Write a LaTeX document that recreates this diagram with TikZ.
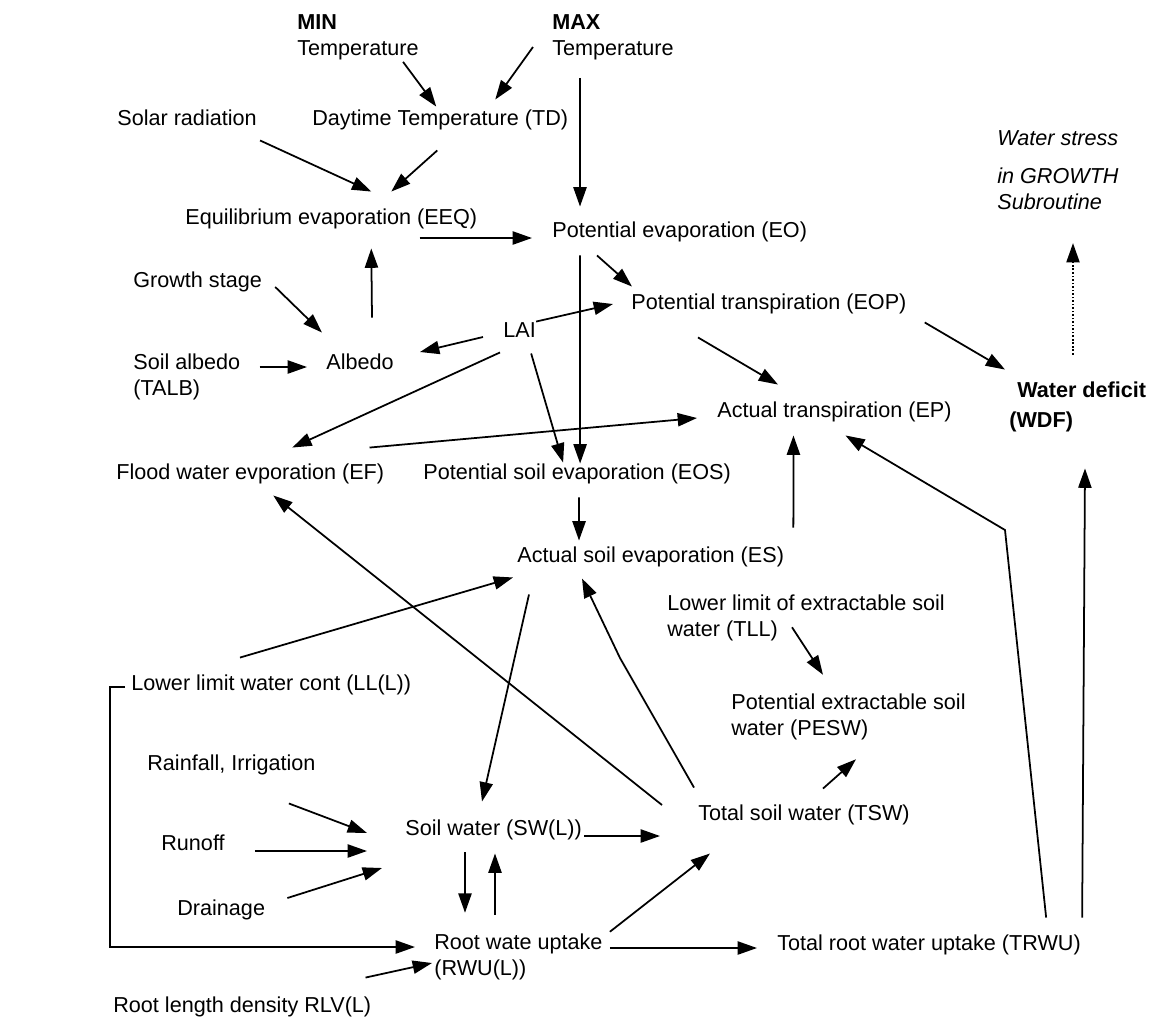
\documentclass[tikz,border=0pt]{standalone}
\usepackage{fontspec}
\setmainfont{Liberation Sans}
\usetikzlibrary{arrows.meta}

\begin{document}
\begin{tikzpicture}[x=0.02cm, y=-0.02cm,
    lbl/.style={anchor=west, inner sep=0pt, font=\fontsize{12.3}{14.6}\selectfont, text height=9pt, text depth=2.5pt},
    lbls/.style={anchor=west, inner sep=0pt, font=\fontsize{12.3}{14.6}\selectfont, align=left},
    arr/.style={-{Triangle[length=11pt, width=7.5pt]}, line width=1pt}]
    \useasboundingbox (0,0) rectangle (1164,1019);

    % Weather and crop inputs
    \node[lbls] (minT) at (297,37) {\textbf{MIN}\\Temperature};
    \node[lbls] (maxT) at (552,37) {\textbf{MAX}\\Temperature};
    \node[lbl] (solar) at (117,120) {Solar radiation};
    \node[lbl] (TD) at (312,120) {Daytime Temperature (TD)};
    \node[lbl] (EEQ) at (185,219) {Equilibrium evaporation (EEQ)};
    \node[lbl] (EO) at (552,232) {Potential evaporation (EO)};
    \node[lbls, font=\fontsize{12.3}{14.6}\selectfont\itshape] (stress) at (997,170) {Water stress\\[7.5pt]in GROWTH\\Subroutine};
    \node[lbl] (growth) at (133,282) {Growth stage};
    \node[lbl] (EOP) at (631,304) {Potential transpiration (EOP)};
    \node[lbl] (LAI) at (503,332) {LAI};
    \node[lbls] (talb) at (133,377) {Soil albedo\\(TALB)};
    \node[lbl] (albedo) at (326,364) {Albedo};
    \node[lbl] (EP) at (717,412) {Actual transpiration (EP)};
    \node[lbls, font=\fontsize{12.3}{14.6}\selectfont\bfseries] (WDF) at (1009,407) {\hspace*{4.5pt}Water deficit\\[2.5pt](WDF)};
    \node[lbl] (EF) at (116,474) {Flood water evporation (EF)};
    \node[lbl] (EOS) at (423,474) {Potential soil evaporation (EOS)};
    \node[lbl] (ES) at (517,557) {Actual soil evaporation (ES)};

    % Soil water balance
    \node[lbls] (TLL) at (667,618) {Lower limit of extractable soil\\water (TLL)};
    \node[lbl] (LL) at (131,685) {Lower limit water cont (LL(L))};
    \node[lbls] (PESW) at (731,717) {Potential extractable soil\\water (PESW)};
    \node[lbl] (rain) at (147,765) {Rainfall, Irrigation};
    \node[lbl] (SW) at (405,830) {Soil water (SW(L))};
    \node[lbl] (TSW) at (698,815) {Total soil water (TSW)};
    \node[lbl] (runoff) at (161,845) {Runoff};
    \node[lbl] (drain) at (177,910) {Drainage};
    \node[lbls] (RWU) at (434,957) {Root wate uptake\\(RWU(L))};
    \node[lbl] (TRWU) at (777,945) {Total root water uptake (TRWU)};
    \node[lbl] (RLV) at (113,1007) {Root length density RLV(L)};

    % Draw arrows in the upper part
    \draw[arr] ([shift={(-16,2)}]minT.south east) -- ([shift={(-4,-3)}]TD.north);
    \draw[arr] ([shift={(-19,10)}]maxT.west) -- ([shift={(55,-10)}]TD.north);
    \draw[arr] ([shift={(28,18)}]maxT.south west) -- ([shift={(28,-15)}]EO.north west);
    \draw[arr] ([shift={(3,10)}]solar.south east) -- ([shift={(40,-17)}]EEQ.north);
    \draw[arr] ([shift={(-3,20)}]TD.south) -- ([shift={(60,-17)}]EEQ.north);
    \draw[arr] ([shift={(-58,19)}]EEQ.east) -- ([shift={(-20,6)}]EO.west);
    \draw[arr] ([shift={(12,-36)}]albedo.north) -- ([shift={(40,19)}]EEQ.south);
    \draw[arr] ([shift={(13,5)}]growth.east) -- ([shift={(-4,-21)}]albedo.north west);
    \draw[arr] ([shift={(19,-10)}]talb.east) -- ([shift={(-19,3)}]albedo.west);
    \draw[arr] ([shift={(-20,5)}]LAI.west) -- ([shift={(26,-12)}]albedo.east);
    \draw[arr] (LAI.north east) -- ([shift={(-18,0)}]EOP.west);
    \draw[arr] ([shift={(-3,10)}]LAI.south west) -- ([shift={(42,-16)}]EF.north);
    \draw[arr] ([shift={(-5,11)}]LAI.south east) -- ([shift={(-14,-1)}]EOS.north);
    \draw[arr] ([shift={(28,13)}]EO.south west) -- ([shift={(3,0)}]EOS.north);
    \draw[arr] ([shift={(45,13)}]EO.south west) -- ([shift={(1,-7)}]EOP.north west);
    \draw[arr] ([shift={(67,23)}]EOP.south west) -- ([shift={(61,-17)}]EP.north west);
    \draw[arr] ([shift={(18,8)}]EOP.south east) -- ([shift={(-4,-12)}]WDF.north west);
    \draw[arr, densely dotted] ([shift={(64,-27)}]WDF.north west) -- ([shift={(76,33)}]stress.south west);
    \draw[arr] ([shift={(-15,-16)}]EF.north east) -- ([shift={(-20,6)}]EP.west);
    \draw[arr] ([shift={(2,13)}]EOS.south) -- ([shift={(62,-6)}]ES.north west);
    \draw[arr] ([shift={(9,-19)}]ES.north east) -- ([shift={(-41,13)}]EP.south);
    \draw[arr] ([shift={(-35,-17)}]TRWU.north east) -- (1005,530) -- ([shift={(11,13)}]EP.south);
    \draw[arr] ([shift={(1,-17)}]TRWU.north east) -- ([shift={(76,36)}]WDF.south west);

    % Draw arrows in the soil part
    \draw[arr] ([shift={(12,27)}]ES.south west) -- ([shift={(77,-18)}]SW.north west);
    \draw[arr] ([shift={(-4,-17)}]TSW.north west) -- (620,658) -- ([shift={(65,11)}]ES.south west);
    \draw[arr] ([shift={(-36,-10)}]TSW.west) -- ([shift={(23,11)}]EF.south);
    \draw[arr] ([shift={(109,-17)}]LL.north west) -- ([shift={(-4,10)}]ES.south west);
    \draw[arr] ([shift={(-6,2)}]LL.west) -- ++(-15,0) |- ([shift={(-19,-10)}]RWU.west);
    \draw[arr] ([shift={(-27,28)}]rain.south east) -- ([shift={(-38,3)}]SW.west);
    \draw[arr] ([shift={(30,6)}]runoff.east) -- ([shift={(-38,21)}]SW.west);
    \draw[arr] ([shift={(22,-12)}]drain.east) -- ([shift={(-23,38)}]SW.west);
    \draw[arr] ([shift={(60,12)}]SW.south west) -- ([shift={(31,-21)}]RWU.north west);
    \draw[arr] ([shift={(61,-19)}]RWU.north west) -- ([shift={(90,13)}]SW.south west);
    \draw[arr] ([shift={(2,6)}]SW.east) -- ([shift={(-38,21)}]TSW.west);
    \draw[arr] ([shift={(7,-2)}]RWU.north east) -- ([shift={(12,28)}]TSW.south west);
    \draw[arr] ([shift={(7,-9)}]RWU.east) -- ([shift={(-20,3)}]TRWU.west);
    \draw[arr] ([shift={(-6,-19)}]RLV.north east) -- ([shift={(-2,6)}]RWU.west);
    \draw[arr] ([shift={(125,-14)}]TLL.south west) -- ([shift={(92,-19)}]PESW.north west);
    \draw[arr] ([shift={(125,-16)}]TSW.north west) -- ([shift={(125,19)}]PESW.south west);
\end{tikzpicture}
\end{document}
